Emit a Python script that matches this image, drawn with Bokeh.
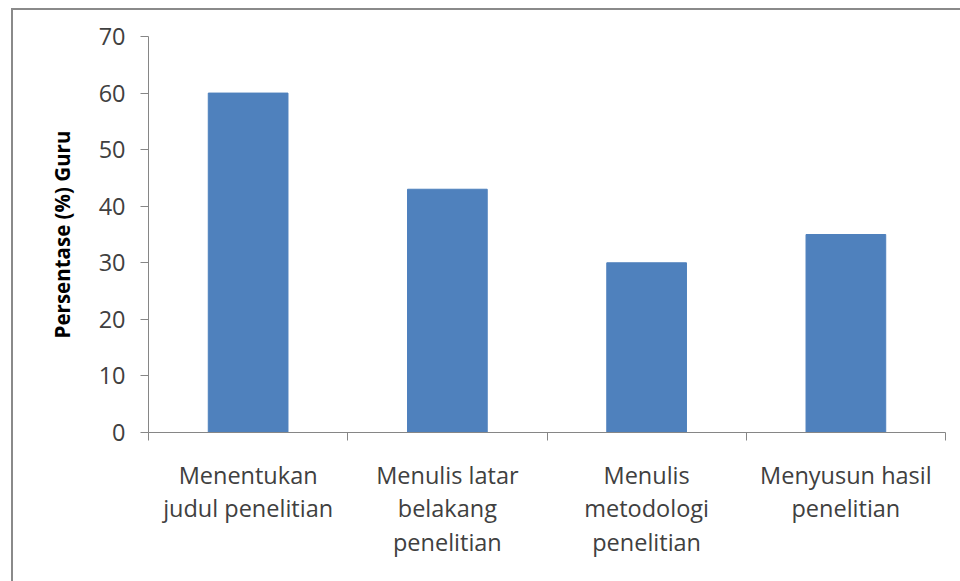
from bokeh.plotting import figure
from bokeh.models import Range1d, LinearAxis, FixedTicker
from bokeh.embed import file_html
from bokeh.resources import INLINE

categories = ["Menentukan\njudul penelitian", "Menulis latar\nbelakang\npenelitian",
              "Menulis\nmetodologi\npenelitian", "Menyusun hasil\npenelitian"]
values = [60, 43, 30, 35]
y_ticks = [0, 10, 20, 30, 40, 50, 60, 70]

FONT = "Open Sans"
AXIS_COLOR = "#868686"
TEXT_COLOR = "#404040"

xs = [i + 0.5 for i in range(len(categories))]

p = figure(width=949, height=573, output_backend="svg", toolbar_location=None,
           x_range=Range1d(0, len(categories)), y_range=Range1d(0, 70),
           x_axis_type=None, y_axis_type=None,
           min_border_left=135, min_border_top=26, min_border_right=17, min_border_bottom=151)
p.margin = (8, 0, 0, 11)
p.styles = {"border-left": "2px solid #8a8a8a", "border-top": "2px solid #8a8a8a"}
p.outline_line_color = None
p.xgrid.visible = False
p.ygrid.visible = False

p.vbar(x=xs, top=values, width=0.4, bottom=0, fill_color="#4F81BD", line_color="#4F81BD")

yax = LinearAxis(ticker=FixedTicker(ticks=y_ticks))
yax.axis_line_color = AXIS_COLOR
yax.major_tick_line_color = AXIS_COLOR
yax.major_tick_in = 0
yax.major_tick_out = 8
yax.minor_tick_line_color = None
yax.major_label_text_font = FONT
yax.major_label_text_font_size = "23.5px"
yax.major_label_text_color = TEXT_COLOR
yax.major_label_standoff = 15
yax.axis_label = "Persentase (%) Guru"
yax.axis_label_text_font = FONT
yax.axis_label_text_font_style = "bold"
yax.axis_label_text_font_size = "20.5px"
yax.axis_label_text_color = "#000000"
yax.axis_label_standoff = 20
p.add_layout(yax, "left")

xax = LinearAxis(ticker=FixedTicker(ticks=list(range(len(categories) + 1))))
xax.axis_line_color = AXIS_COLOR
xax.major_tick_line_color = AXIS_COLOR
xax.major_tick_in = 0
xax.major_tick_out = 8
xax.minor_tick_line_color = None
xax.major_label_overrides = {i: "" for i in range(len(categories) + 1)}
xax.major_label_text_font_size = "1px"
xax.major_label_standoff = 0
p.add_layout(xax, "below")

cax = LinearAxis(ticker=FixedTicker(ticks=xs))
cax.axis_line_color = None
cax.major_tick_line_color = None
cax.minor_tick_line_color = None
cax.major_label_overrides = {x: c for x, c in zip(xs, categories)}
cax.major_label_text_font = FONT
cax.major_label_text_font_size = "23.5px"
cax.major_label_text_color = TEXT_COLOR
cax.major_label_text_line_height = 1.05
cax.major_label_standoff = 12
p.add_layout(cax, "below")

open("out.html", "w").write(file_html(p, INLINE))
